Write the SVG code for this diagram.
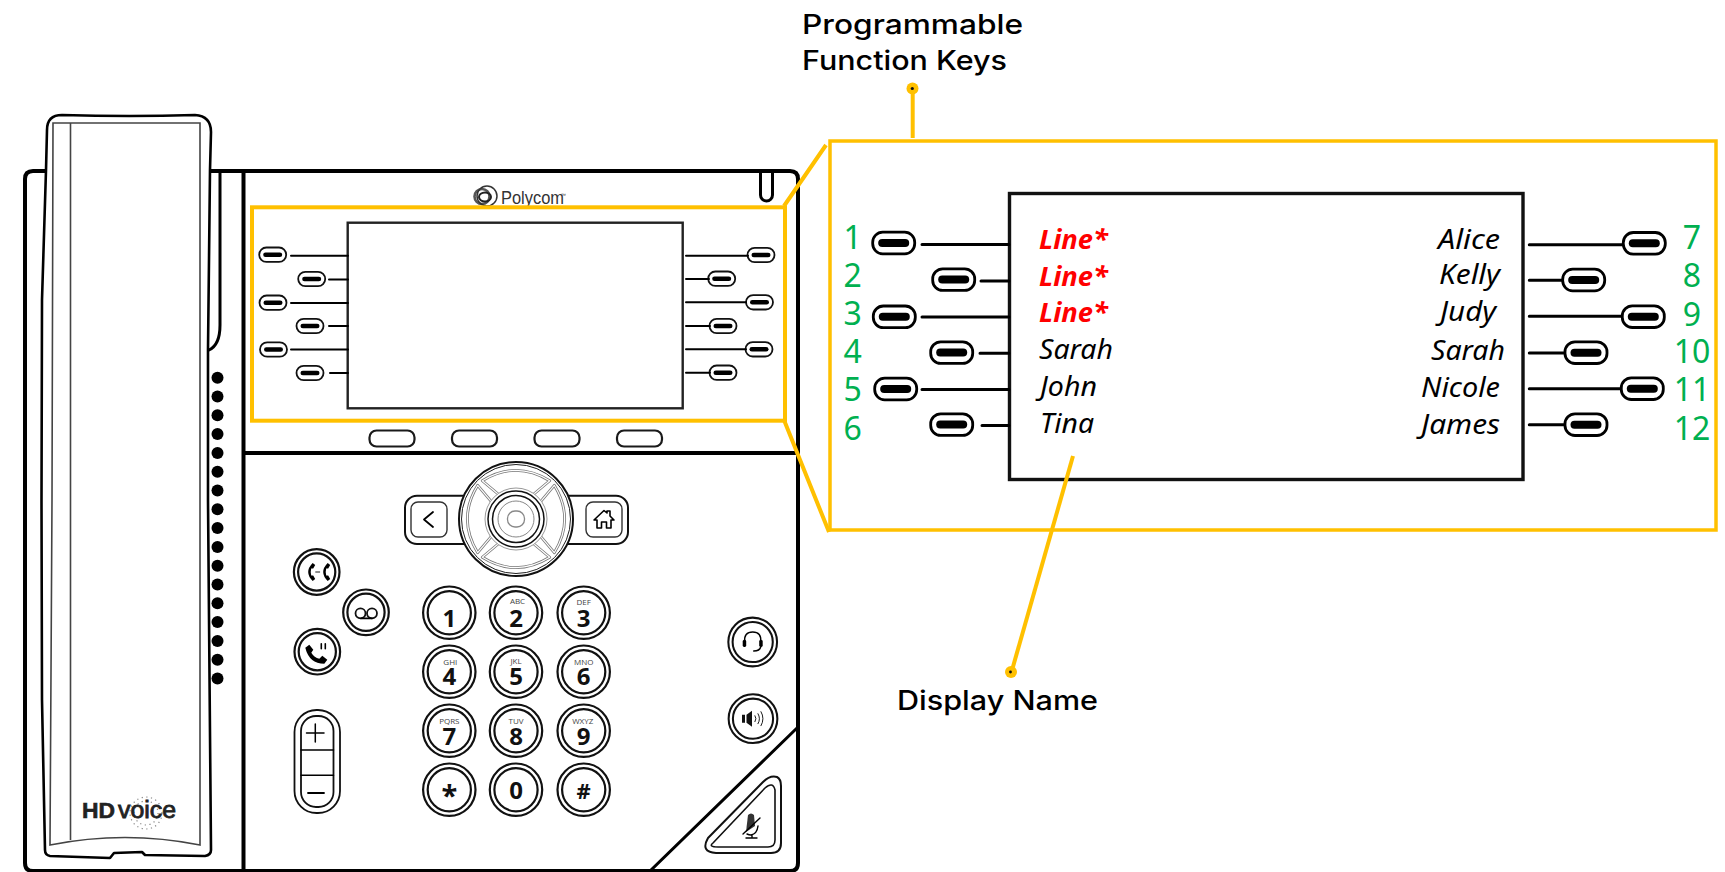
<svg xmlns="http://www.w3.org/2000/svg" xmlns:xlink="http://www.w3.org/1999/xlink" width="1725" height="872" viewBox="0 0 1725 872">
<style>
.ln{fill:none;stroke:#000;stroke-linecap:round;stroke-linejoin:round}
.y{fill:none;stroke:#FFC000;stroke-width:4}
.c1{fill:none;stroke:#1a1a1a;stroke-width:2.2}
.num{font-family:"Noto Sans","Open Sans",sans-serif;font-size:32px;fill:#00B050;text-anchor:middle}
.nm{font-family:"Noto Sans","Open Sans",sans-serif;font-size:27px;font-style:italic;fill:#000}
.red{fill:#F00;font-weight:700}
.ttl{font-family:Inter,"Open Sans",sans-serif;font-size:27px;font-weight:500;fill:#000}
.dg{font-family:"Open Sans","Noto Sans",sans-serif;font-size:24px;font-weight:700;fill:#111;text-anchor:middle}
.lt{font-family:"Open Sans","Noto Sans",sans-serif;font-size:8px;fill:#444;text-anchor:middle}
.dot{fill:#000}
.g1{fill:none;stroke:#777;stroke-width:2.8;stroke-linejoin:round}
.g2{fill:none;stroke:#fff;stroke-width:1.2;stroke-linejoin:round}
</style>
<defs>
<g id="keyS"><rect x="-13.5" y="-7.2" width="27" height="14.4" rx="7.2" fill="#fff" stroke="#111" stroke-width="1.8"/><rect x="-9.5" y="-2.3" width="19" height="4.6" rx="2.3" fill="#000"/></g>
<g id="keyB"><rect x="-21" y="-10.8" width="42" height="21.6" rx="10" fill="#fff" stroke="#000" stroke-width="2.8"/><rect x="-15.5" y="-4" width="31" height="8" rx="4" fill="#000"/></g>
<g id="dial"><circle r="26.2" fill="#fff" stroke="#111" stroke-width="2.2"/><circle r="21.6" fill="none" stroke="#111" stroke-width="2.2"/></g>
<g id="fn"><circle r="22.8" fill="#fff" stroke="#111" stroke-width="2.2"/><circle r="18.6" fill="none" stroke="#111" stroke-width="2.2"/></g>
<path id="pad" d="M-33.7,-38.3 Q0,-59 33.7,-38.3 L16.7,-24 Q0,-33 -16.7,-24 Z"/>
</defs>
<rect width="1725" height="872" fill="#fff"/>

<g id="phone-body">
<path class="ln" stroke-width="4" d="M46,171 H33 Q25,171 25,179 V863 Q25,871 33,871 H790 Q798,871 798,863 V179 Q798,171 790,171 H210"/>
<path class="ln" stroke-width="4" d="M243.5,171 V871 M243.5,453 H798"/>
<path class="ln" stroke-width="3" d="M220,171 V325 Q220,345 209,350"/>
<path class="ln" stroke-width="3" d="M797,728 L650,871"/>
<path class="ln" stroke-width="3" d="M760.5,172 V195 A6,6 0 0 0 772.5,195 V172"/>
</g>

<g id="handset">
<path fill="#fff" stroke="#000" stroke-width="2.6" stroke-linejoin="round" d="M47,130 Q47,115 62,115 Q130,117 195,115 Q211,116 211,132 L210,170 L208,350 L208,500 L211,850 Q211,855 205,856 L145,855 L142,852 L114,853 L110,858 L50,856 Q45,855 45,850 L42,700 L41.5,500 L42,300 L46,170 Z"/>
<path fill="none" stroke="#444" stroke-width="1.6" d="M53,123 H200 V845 Q125,830 50,845 L52,500 Z M70.5,123 V840"/>
</g>

<g id="speaker-grille">
<circle class="dot" cx="217.5" cy="377.7" r="6"/><circle class="dot" cx="217.5" cy="396.5" r="6"/><circle class="dot" cx="217.5" cy="415.3" r="6"/><circle class="dot" cx="217.5" cy="434.1" r="6"/><circle class="dot" cx="217.5" cy="452.9" r="6"/><circle class="dot" cx="217.5" cy="471.7" r="6"/><circle class="dot" cx="217.5" cy="490.5" r="6"/><circle class="dot" cx="217.5" cy="509.3" r="6"/><circle class="dot" cx="217.5" cy="528.1" r="6"/><circle class="dot" cx="217.5" cy="546.9" r="6"/><circle class="dot" cx="217.5" cy="565.7" r="6"/><circle class="dot" cx="217.5" cy="584.5" r="6"/><circle class="dot" cx="217.5" cy="603.3" r="6"/><circle class="dot" cx="217.5" cy="622.1" r="6"/><circle class="dot" cx="217.5" cy="640.9" r="6"/><circle class="dot" cx="217.5" cy="659.7" r="6"/><circle class="dot" cx="217.5" cy="678.5" r="6"/>
</g>

<g id="hdvoice">
<circle cx="146" cy="813" r="16" fill="none" stroke="#888" stroke-width="1.2" stroke-dasharray="1.2 3.5"/>
<circle cx="146" cy="813" r="12" fill="none" stroke="#888" stroke-width="1.2" stroke-dasharray="1.2 3.5"/>
<text x="82" y="818" font-family="'Liberation Sans',sans-serif" font-size="22" font-weight="700" fill="#222" stroke="#222" stroke-width=".6" textLength="33" lengthAdjust="spacingAndGlyphs">HD</text>
<text x="118" y="818" font-family="'Liberation Sans',sans-serif" font-size="23" fill="#222" stroke="#222" stroke-width=".8" textLength="58" lengthAdjust="spacingAndGlyphs">voice</text>
</g>

<g id="polycom-logo">
<circle cx="482" cy="196.5" r="7.5" fill="none" stroke="#555" stroke-width="2.6"/>
<circle cx="487" cy="196" r="10" fill="none" stroke="#333" stroke-width="1.5"/>
<ellipse cx="485" cy="197" rx="6" ry="4.5" fill="none" stroke="#222" stroke-width="2"/>
<text x="501" y="204" font-family="'Liberation Sans',sans-serif" font-size="18" fill="#333" textLength="63" lengthAdjust="spacingAndGlyphs">Polycom</text>
<text x="561" y="197" font-family="'Liberation Sans',sans-serif" font-size="5" fill="#333">™</text>
</g>

<g id="phone-display">
<rect x="347.7" y="222.7" width="335" height="185.6" fill="#fff" stroke="#222" stroke-width="2.4"/>
</g>

<g id="phone-line-keys">
<use xlink:href="#keyS" href="#keyS" x="272.7" y="254.7"/><use xlink:href="#keyS" href="#keyS" x="311.7" y="279"/><use xlink:href="#keyS" href="#keyS" x="273" y="302.7"/><use xlink:href="#keyS" href="#keyS" x="310" y="326"/><use xlink:href="#keyS" href="#keyS" x="273.5" y="349.5"/><use xlink:href="#keyS" href="#keyS" x="310" y="373"/>
<use xlink:href="#keyS" href="#keyS" x="761" y="255"/><use xlink:href="#keyS" href="#keyS" x="721.7" y="278.7"/><use xlink:href="#keyS" href="#keyS" x="759.5" y="302.3"/><use xlink:href="#keyS" href="#keyS" x="723" y="326"/><use xlink:href="#keyS" href="#keyS" x="759" y="349.3"/><use xlink:href="#keyS" href="#keyS" x="723" y="372.7"/>
</g>

<g id="soft-keys">
<rect class="c1" x="369.5" y="430.5" width="45" height="16" rx="7"/><rect class="c1" x="452" y="430.5" width="45" height="16" rx="7"/><rect class="c1" x="534.5" y="430.5" width="45" height="16" rx="7"/><rect class="c1" x="617" y="430.5" width="45" height="16" rx="7"/>
</g>

<g id="nav-cluster">
<rect x="405" y="495.7" width="223" height="48.3" rx="12" fill="#fff" stroke="#111" stroke-width="2"/>
<rect x="411" y="502" width="36" height="35" rx="7" fill="none" stroke="#333" stroke-width="1.4"/>
<rect x="586" y="502" width="36" height="35" rx="7" fill="none" stroke="#333" stroke-width="1.4"/>
<path class="ln" stroke-width="1.8" stroke="#222" d="M433,512 L424,519.5 L433,527"/>
<path class="ln" stroke-width="1.6" d="M597,528 V520 H594 L604,510.5 L607,513 V511 H610 V516 L614,520 H611 V528 H606.5 V522 H601.5 V528 Z"/>
<circle cx="516" cy="519" r="57" fill="#fff" stroke="#111" stroke-width="2"/>
<circle cx="516" cy="519" r="54.5" fill="none" stroke="#222" stroke-width="1"/>
<g transform="translate(516 519)">
<use xlink:href="#pad" href="#pad" class="g1"/><use xlink:href="#pad" href="#pad" class="g2"/>
<use xlink:href="#pad" href="#pad" class="g1" transform="rotate(90)"/><use xlink:href="#pad" href="#pad" class="g2" transform="rotate(90)"/>
<use xlink:href="#pad" href="#pad" class="g1" transform="rotate(180)"/><use xlink:href="#pad" href="#pad" class="g2" transform="rotate(180)"/>
<use xlink:href="#pad" href="#pad" class="g1" transform="rotate(270)"/><use xlink:href="#pad" href="#pad" class="g2" transform="rotate(270)"/>
<circle r="31" fill="#fff" stroke="#999" stroke-width="1"/>
<circle r="28" fill="none" stroke="#111" stroke-width="1.5"/>
<circle r="23.5" fill="none" stroke="#111" stroke-width="1.5"/>
<circle r="18" fill="none" stroke="#888" stroke-width="1"/>
<rect x="-8.5" y="-8" width="17" height="16" rx="7.5" fill="none" stroke="#888" stroke-width="1.3"/>
</g>
</g>

<g id="call-buttons">
<g transform="translate(316.7 572)"><use xlink:href="#fn" href="#fn"/><path fill="#000" d="M-4,-9 Q-13,0 -4,9 L-1.5,7 L-3.5,3.5 L-5.5,3.5 Q-6.5,0 -5.5,-3.5 L-3.5,-3.5 L-1.5,-7 Z M11,-9 Q2,0 11,9 L13.5,7 L11.5,3.5 L9.5,3.5 Q8.5,0 9.5,-3.5 L11.5,-3.5 L13.5,-7 Z"/><path class="ln" stroke-width=".9" stroke="#555" d="M-1,0 H3"/></g>
<g transform="translate(366 612.3)"><use xlink:href="#fn" href="#fn"/><circle cx="-5.5" cy="1" r="5" fill="none" stroke="#111" stroke-width="1.8"/><circle cx="6" cy="1" r="5" fill="none" stroke="#111" stroke-width="1.8"/><path class="ln" stroke-width="1.8" d="M-5,6 H6"/></g>
<g transform="translate(317.3 651.7)"><use xlink:href="#fn" href="#fn"/><path fill="#000" d="M-12,-4 L-8,-7 L-4,-2 L-6,1 Q-3,6 2,7 L5,4 L10,8 L7,12 Q-8,12 -12,-4 Z"/><path class="ln" stroke-width="1.6" stroke="#333" d="M4,-3 V-8 M8,-3 V-8"/></g>
<g id="volume"><rect x="294.5" y="710" width="45.5" height="103" rx="22" fill="#fff" stroke="#111" stroke-width="1.8"/><rect x="301" y="716" width="32.5" height="91" rx="15" fill="none" stroke="#111" stroke-width="1.8"/><path class="ln" stroke-width="1.5" d="M301,750 H333.5 M301,775.3 H333.5"/><path class="ln" stroke-width="1.5" stroke="#222" d="M306.5,733 H324 M315.3,724 V742"/><path class="ln" stroke-width="1.8" stroke="#222" d="M308,793 H324"/></g>
<g transform="translate(752.7 642)"><use xlink:href="#dial" href="#dial" transform="scale(.93)"/><path class="ln" stroke-width="1.4" d="M-8,0 Q-9,-10 0,-10 Q9,-10 8,0 M8,5 Q7,9 1,9"/><rect x="-10" y="-2" width="3.5" height="7" rx="1.4"/><rect x="6.5" y="-2" width="3.5" height="7" rx="1.4"/></g>
<g transform="translate(753 718.7)"><use xlink:href="#dial" href="#dial" transform="scale(.93)"/><path d="M-11,-4 H-8 V4 H-11 Z M-6.5,-4 L-1,-8 V8 L-6.5,4 Z" fill="#111"/><path class="ln" stroke-width=".9" d="M2,-3 Q4,0 2,3 M5,-5 Q8,0 5,5 M8,-7 Q12,0 8,7"/></g>
<g id="mute"><path fill="#fff" stroke="#111" stroke-width="2" d="M708,838 L763,782 Q770,775 777,777 Q781,779 781,786 L781,843 Q781,853 771,853 L716,853 Q700,852 708,838 Z"/><path fill="none" stroke="#111" stroke-width="1.6" d="M713,843 L765,788 Q773,781 775,790 L775,840 Q775,847 768,847 L718,847 Q708,847 713,843 Z"/><path fill="#333" d="M748,815 Q751,812 754,815 L755,826 L746,832 Z"/><path class="ln" stroke-width="1.4" stroke="#333" d="M743,834 L760,818 M758,826 Q757,834 751,835 Q749,835 747,834 M752,835 V837 M746,838 H757"/></g>
</g>

<g id="dial-pad">
<g transform="translate(449.3 612.7)"><use xlink:href="#dial" href="#dial"/><text class="dg" y="14">1</text></g>
<g transform="translate(516 612.7)"><use xlink:href="#dial" href="#dial"/><text class="lt" x="1.5" y="-8.5">ABC</text><text class="dg" y="14">2</text></g>
<g transform="translate(583.7 612.7)"><use xlink:href="#dial" href="#dial"/><text class="lt" y="-7.5">DEF</text><text class="dg" y="14">3</text></g>
<g transform="translate(449.3 671.7)"><use xlink:href="#dial" href="#dial"/><text class="lt" x="1" y="-6.5">GHI</text><text class="dg" y="13.5">4</text></g>
<g transform="translate(516 671.7)"><use xlink:href="#dial" href="#dial"/><text class="lt" y="-7.5">JKL</text><text class="dg" y="13.5">5</text></g>
<g transform="translate(583.7 671.7)"><use xlink:href="#dial" href="#dial"/><text class="lt" y="-6.5">MNO</text><text class="dg" y="13.5">6</text></g>
<g transform="translate(449.3 730.7)"><use xlink:href="#dial" href="#dial"/><text class="lt" y="-7">PQRS</text><text class="dg" y="14">7</text></g>
<g transform="translate(516 730.7)"><use xlink:href="#dial" href="#dial"/><text class="lt" y="-6.5">TUV</text><text class="dg" y="14">8</text></g>
<g transform="translate(583.7 730.7)"><use xlink:href="#dial" href="#dial"/><text class="lt" x="-1" y="-6.5">WXYZ</text><text class="dg" y="14">9</text></g>
<g transform="translate(449.3 789.7)"><use xlink:href="#dial" href="#dial"/><text class="dg" y="16" style="font-size:29px">*</text></g>
<g transform="translate(516 789.7)"><use xlink:href="#dial" href="#dial"/><text class="dg" y="9">0</text></g>
<g transform="translate(583.7 789.7)"><use xlink:href="#dial" href="#dial"/><text class="dg" y="9" style="font-size:22px">#</text></g>
</g>

<g id="zoom-panel">
<rect x="830" y="141" width="886" height="389" fill="#fff" stroke="#FFC000" stroke-width="3.5"/>
<rect x="1009.5" y="193.5" width="513.5" height="286" fill="#fff" stroke="#111" stroke-width="3.4"/>
</g>

<g id="connectors">
<path class="ln" stroke="#222" stroke-width="2" d="M291,255.7 H348 M329,279.5 H348 M291,303 H348 M329,326 H348 M291,349.5 H348 M330,373 H348 M686,255.7 H748 M686,279 H709 M686,302.3 H746 M686,326 H710 M686,349.3 H746 M686,372.7 H710"/>
<path class="ln" stroke="#111" stroke-width="3" stroke-linecap="butt" d="M922,244.5 H1009 M981,281 H1009 M922,317 H1009 M980,353.3 H1009 M922,389.5 H1009 M982,425.6 H1009 M1529.3,244.7 H1624 M1529.3,280.3 H1563 M1529.3,316.3 H1623 M1529.3,353 H1566 M1529.3,388.7 H1622 M1529.3,424.7 H1566"/>
<rect class="y" x="252" y="207.3" width="533" height="213.4"/>
<path class="y" d="M784,206 L826,145 M784,420 L829,532"/>
<path class="y" d="M912.7,88 V138"/>
<path class="y" d="M1073,456 L1011.5,672"/>
<circle cx="912.5" cy="88.5" r="6" fill="#FFC000"/><circle cx="912.3" cy="88.5" r="1.6" fill="#111"/>
<circle cx="1011" cy="672" r="6" fill="#FFC000"/><circle cx="1010.5" cy="672" r="1.4" fill="#111"/>
</g>

<g id="function-keys">
<use xlink:href="#keyB" href="#keyB" x="893.7" y="243"/><use xlink:href="#keyB" href="#keyB" x="953.7" y="279.6"/><use xlink:href="#keyB" href="#keyB" x="894.3" y="316.8"/><use xlink:href="#keyB" href="#keyB" x="951.7" y="352.6"/><use xlink:href="#keyB" href="#keyB" x="895.7" y="389"/><use xlink:href="#keyB" href="#keyB" x="951.7" y="424.6"/>
<use xlink:href="#keyB" href="#keyB" x="1644.3" y="243.3"/><use xlink:href="#keyB" href="#keyB" x="1583.7" y="280"/><use xlink:href="#keyB" href="#keyB" x="1643.3" y="316.7"/><use xlink:href="#keyB" href="#keyB" x="1586" y="352.7"/><use xlink:href="#keyB" href="#keyB" x="1642.3" y="388.7"/><use xlink:href="#keyB" href="#keyB" x="1586" y="424.7"/>
</g>

<g id="key-numbers">
<text class="num" x="852.7" y="249">1</text><text class="num" x="852.7" y="286.5">2</text><text class="num" x="852.7" y="324.5">3</text><text class="num" x="852.7" y="362.5">4</text><text class="num" x="852.7" y="400.5">5</text><text class="num" x="852.7" y="439.5">6</text>
<text class="num" x="1692" y="248.5">7</text><text class="num" x="1692" y="287">8</text><text class="num" x="1692" y="325.5">9</text><text class="num" x="1692" y="362.5">10</text><text class="num" x="1692" y="401">11</text><text class="num" x="1692" y="440">12</text>
</g>

<g id="display-names">
<text class="nm red" x="1039" y="248.5" textLength="69" lengthAdjust="spacingAndGlyphs">Line*</text>
<text class="nm red" x="1039" y="285.5" textLength="69" lengthAdjust="spacingAndGlyphs">Line*</text>
<text class="nm red" x="1039" y="321.5" textLength="69" lengthAdjust="spacingAndGlyphs">Line*</text>
<text class="nm" x="1039" y="359" textLength="74" lengthAdjust="spacingAndGlyphs">Sarah</text>
<text class="nm" x="1040" y="396" textLength="57" lengthAdjust="spacingAndGlyphs">John</text>
<text class="nm" x="1040" y="432.5" textLength="54" lengthAdjust="spacingAndGlyphs">Tina</text>
<text class="nm" x="1438" y="249" textLength="62" lengthAdjust="spacingAndGlyphs">Alice</text>
<text class="nm" x="1439" y="284" textLength="61" lengthAdjust="spacingAndGlyphs">Kelly</text>
<text class="nm" x="1440" y="321" textLength="56" lengthAdjust="spacingAndGlyphs">Judy</text>
<text class="nm" x="1431" y="359.5" textLength="74" lengthAdjust="spacingAndGlyphs">Sarah</text>
<text class="nm" x="1421" y="397" textLength="79" lengthAdjust="spacingAndGlyphs">Nicole</text>
<text class="nm" x="1421" y="433.5" textLength="79" lengthAdjust="spacingAndGlyphs">James</text>
</g>

<g id="labels">
<text class="ttl" x="802" y="34" textLength="221" lengthAdjust="spacingAndGlyphs">Programmable</text>
<text class="ttl" x="802" y="70" textLength="205" lengthAdjust="spacingAndGlyphs">Function Keys</text>
<text class="ttl" x="897" y="709.5" textLength="201" lengthAdjust="spacingAndGlyphs">Display Name</text>
</g>
</svg>
